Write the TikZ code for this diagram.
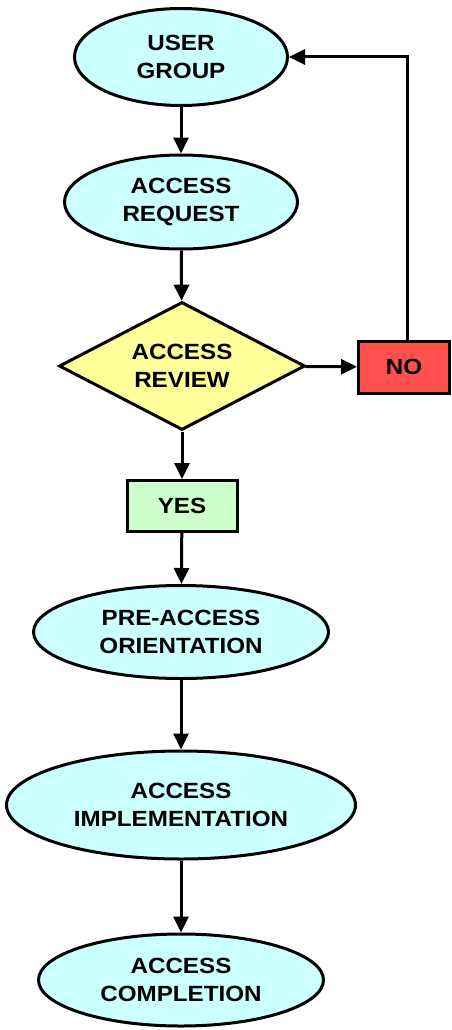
\documentclass[tikz,border=0pt]{standalone}
\usepackage{fontspec}
\setmainfont{Liberation Sans}[FakeStretch=1.1]
\usetikzlibrary{shapes.geometric,arrows.meta}
\definecolor{cyanfill}{HTML}{CCFFFF}
\definecolor{yellowfill}{HTML}{FFFF99}
\definecolor{redfill}{HTML}{FF5050}
\definecolor{greenfill}{HTML}{CCFFCC}
\begin{document}
\begin{tikzpicture}[x=1pt,y=1pt,
  every node/.style={font=\fontsize{22}{28}\selectfont\bfseries, align=center, inner sep=0pt},
  ell/.style={ellipse, draw, line width=3pt, fill=cyanfill},
  boxn/.style={rectangle, draw, line width=3pt},
  arr/.style={line width=3pt, -{Triangle[length=16pt,width=15pt]}}]
\useasboundingbox (0,0) rectangle (452,-1030);
\node[ell, minimum width=213pt, minimum height=97pt] (ug) at (181,-57) {USER\\GROUP};
\node[ell, minimum width=233pt, minimum height=94pt] (ar) at (181,-202) {ACCESS\\REQUEST};
\node[diamond, draw, line width=3pt, fill=yellowfill, aspect=1.9, minimum width=246pt, minimum height=128pt] (rev) at (182,-366) {ACCESS\\REVIEW};
\node[boxn, fill=redfill, minimum width=91pt, minimum height=52pt] (no) at (404,-367) {NO};
\node[boxn, fill=greenfill, minimum width=110pt, minimum height=51pt] (yes) at (182,-506) {YES};
\node[ell, minimum width=295pt, minimum height=93pt] (pao) at (181,-632) {PRE-ACCESS\\ORIENTATION};
\node[ell, minimum width=349pt, minimum height=108pt] (ai) at (181,-805) {ACCESS\\IMPLEMENTATION};
\node[ell, minimum width=285pt, minimum height=92pt] (ac) at (181,-980) {ACCESS\\COMPLETION};
\draw[arr] (ug) -- (ar);
\draw[arr] (ar) -- (rev);
\draw[arr] (rev) -- (no);
\draw[arr] (rev) -- (yes);
\draw[arr] (yes) -- (pao);
\draw[arr] (pao) -- (ai);
\draw[arr] (ai) -- (ac);
\draw[arr] ([xshift=3pt]no.north) |- (ug.east);
\end{tikzpicture}
\end{document}
